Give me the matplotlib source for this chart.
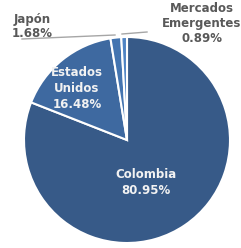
import numpy as np
import matplotlib
matplotlib.use('Agg')
import matplotlib.pyplot as plt

labels = ['Colombia', 'Estados\nUnidos', 'Japón', 'Mercados\nEmergentes']
values = [80.95, 16.48, 1.68, 0.89]
colors = ['#375A88', '#3E69A0', '#4374B0', '#4F84C4']

fig = plt.figure(figsize=(2.41, 2.48), dpi=100)
ax = fig.add_axes([0, 0, 1, 1])

cx, cy, r = 127, 108, 103
wedges, _ = ax.pie(values, colors=colors, startangle=90, counterclock=False,
                   center=(cx, cy), radius=r, frame=True,
                   wedgeprops=dict(edgecolor='white', linewidth=1.5))
ax.set_xlim(0, 241)
ax.set_ylim(0, 248)
ax.axis('off')

fs = 8.5
txt = dict(ha='center', va='center', fontsize=fs, fontweight='bold')

# inside labels
ax.text(146, 65.5, labels[0] + '\n%.2f%%' % values[0], color='#F2F2F2', linespacing=1.3, **txt)
ax.text(77, 160, labels[1] + '\n%.2f%%' % values[1], color='#F2F2F2', linespacing=1.3, **txt)

# outside labels with leader lines
ax.text(32, 221.5, labels[2] + '\n%.2f%%' % values[2], color='#595959', linespacing=1.15, **txt)
ax.text(202, 224, labels[3] + '\n%.2f%%' % values[3], color='#595959', linespacing=1.2, **txt)
ax.plot([22, 115], [209, 213], color='#A6A6A6', lw=1)
ax.plot([122, 147], [214, 216], color='#A6A6A6', lw=1)

fig.savefig('out.png', dpi=100)
